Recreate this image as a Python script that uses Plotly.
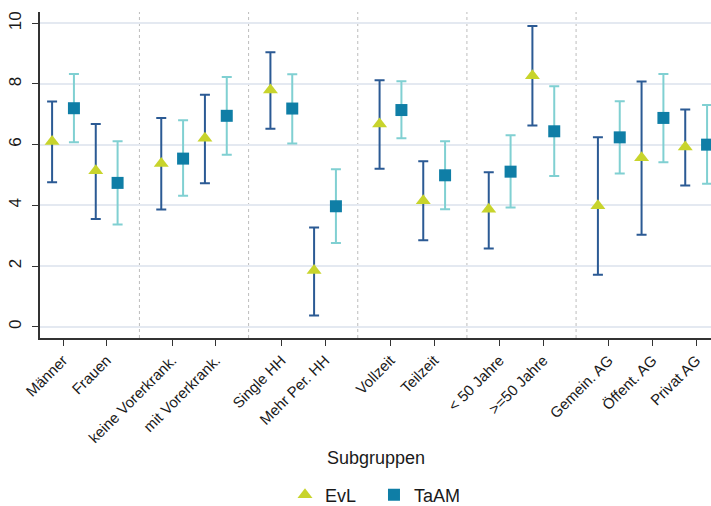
import plotly.graph_objects as go

categories = ["Männer", "Frauen", "keine Vorerkrank.", "mit Vorerkrank.",
              "Single HH", "Mehr Per. HH", "Vollzeit", "Teilzeit",
              "< 50 Jahre", ">=50 Jahre", "Gemein. AG", "Öffent. AG", "Privat AG"]
groups = [0, 0, 1, 1, 2, 2, 3, 3, 4, 4, 5, 5, 5]

evl_mean = [6.10, 5.14, 5.38, 6.21, 7.80, 1.85, 6.68, 4.15, 3.87, 8.27, 3.99, 5.57, 5.92]
evl_upper = [7.42, 6.68, 6.88, 7.64, 9.04, 3.27, 8.12, 5.45, 5.09, 9.91, 6.24, 8.08, 7.16]
evl_lower = [4.76, 3.55, 3.86, 4.73, 6.52, 0.37, 5.21, 2.85, 2.58, 6.63, 1.71, 3.03, 4.65]

taam_mean = [7.20, 4.74, 5.54, 6.95, 7.19, 3.97, 7.14, 4.99, 5.11, 6.44, 6.24, 6.88, 6.00]
taam_upper = [8.33, 6.11, 6.80, 8.23, 8.32, 5.19, 8.09, 6.11, 6.31, 7.92, 7.43, 8.33, 7.31]
taam_lower = [6.08, 3.37, 4.32, 5.67, 6.04, 2.76, 6.21, 3.87, 3.93, 4.97, 5.05, 5.42, 4.71]

y_ticks = [0, 2, 4, 6, 8, 10]

# category positions: unit step within group, 1.5 step between groups
pos = []
p = 1.0
for i, g in enumerate(groups):
    if i > 0:
        p += 1.5 if g != groups[i - 1] else 1.0
    pos.append(p)

off = 0.25
x_evl = [v - off for v in pos]
x_taam = [v + off for v in pos]

EVL_MARK = "#c8d42c"
EVL_CI = "#2b5a94"
TAAM_MARK = "#0f7ea6"
TAAM_CI = "#80d0d2"

fig = go.Figure()
fig.add_trace(go.Scatter(
    x=x_evl, y=evl_mean, mode="markers", name="EvL",
    marker=dict(symbol="triangle-up", size=13, color=EVL_MARK),
    error_y=dict(type="data", symmetric=False,
                 array=[u - m for u, m in zip(evl_upper, evl_mean)],
                 arrayminus=[m - l for m, l in zip(evl_mean, evl_lower)],
                 color=EVL_CI, thickness=2, width=5),
))
fig.add_trace(go.Scatter(
    x=x_taam, y=taam_mean, mode="markers", name="TaAM", cliponaxis=False,
    marker=dict(symbol="square", size=12, color=TAAM_MARK),
    error_y=dict(type="data", symmetric=False,
                 array=[u - m for u, m in zip(taam_upper, taam_mean)],
                 arrayminus=[m - l for m, l in zip(taam_mean, taam_lower)],
                 color=TAAM_CI, thickness=2, width=5),
))

# dotted separators between groups
for i in range(1, len(groups)):
    if groups[i] != groups[i - 1]:
        xs = (pos[i] + pos[i - 1]) / 2
        fig.add_shape(type="line", xref="x", yref="paper", x0=xs, x1=xs, y0=0, y1=1,
                      line=dict(color="#bdbdbd", width=1, dash="dot"), layer="below")

fig.add_annotation(text="Subgruppen", xref="paper", yref="paper", x=0.5, y=-0.368,
                   xanchor="center", yanchor="middle", showarrow=False,
                   font=dict(size=18))

fig.update_layout(
    width=711, height=506,
    margin=dict(l=40, r=0, t=12, b=168),
    paper_bgcolor="white", plot_bgcolor="white",
    font=dict(family="Liberation Sans, Arial, sans-serif", color="#1a1a1a"),
    showlegend=True,
    legend=dict(orientation="h", xref="container", yref="container",
                x=0.526, xanchor="center", y=(506 - 495) / 506, yanchor="middle",
                font=dict(size=18), itemwidth=30, entrywidth=44),
    xaxis=dict(
        range=[0.473, 15.84], tickmode="array", tickvals=pos, ticktext=categories,
        tickangle=-45, tickfont=dict(size=15), ticks="outside", ticklen=6,
        tickcolor="#333", showgrid=False, zeroline=False, automargin=False,
        showline=True, linecolor="#333", linewidth=1.5,
    ),
    yaxis=dict(
        range=[-0.37, 10.37], tickmode="array", tickvals=y_ticks,
        tickangle=-90, tickfont=dict(size=17), ticks="outside", ticklen=6,
        ticklabelstandoff=4, automargin=False,
        tickcolor="#333", showgrid=True, gridcolor="#e4e9f1", gridwidth=2,
        zeroline=False, showline=True, linecolor="#333", linewidth=1.5,
    ),
)

fig.write_html("out.html", config={"displayModeBar": False},
               post_script="document.body.style.margin='0';document.body.style.overflow='hidden';")
